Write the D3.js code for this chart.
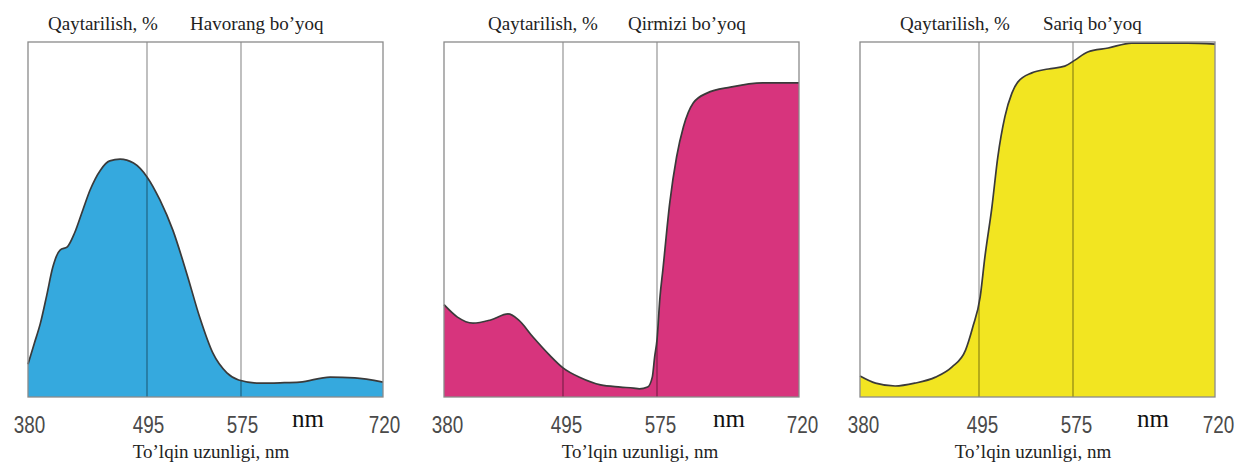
<!DOCTYPE html>
<html>
<head>
<meta charset="utf-8">
<script src="https://cdn.jsdelivr.net/npm/d3@7"></script>
<style>
  html, body { margin: 0; padding: 0; background: #fff; }
  svg { display: block; }
</style>
</head>
<body>
<svg id="chart" width="1237" height="463"></svg>
<script>
// ---------- DATA ----------
const wavelengthTicks = [380, 495, 575, 720];
const yTitle = "Qaytarilish, %";
const xTitle = "To’lqin uzunligi, nm";
const unitLabel = "nm";
const panelTitles = ["Havorang bo’yoq", "Qirmizi bo’yoq", "Sariq bo’yoq"];

const cyanWl  = [380, 386, 392, 398, 404, 411, 418, 425, 433, 440, 450, 459, 469, 482, 495, 506, 517, 529, 540, 551, 563, 573, 594, 615, 635, 666, 691, 720];
const cyanVal = [9.2, 15.0, 20.8, 28.5, 36.6, 41.4, 42.3, 46.2, 52.7, 58.3, 63.9, 66.5, 67.0, 65.9, 62.0, 55.5, 47.0, 34.6, 22.3, 12.4, 6.8, 4.8, 3.9, 4.0, 4.2, 5.6, 5.4, 4.2];

const magentaWl  = [380, 393, 408, 425, 442, 452, 466, 482, 495, 510, 527, 544, 555, 560, 567, 571, 573, 575, 578, 581, 588, 595, 602, 612, 626, 650, 683, 720];
const magentaVal = [26, 22.5, 20.8, 21.7, 23.4, 21.7, 16.9, 11.8, 8.2, 5.4, 3.4, 2.8, 2.5, 2.3, 2.8, 5.6, 11.3, 16.1, 28, 35.8, 54.6, 67.6, 76.1, 82.8, 85.6, 87.3, 88.5, 88.5];

const yellowWl  = [380, 395, 414, 433, 453, 469, 482, 489, 496, 500, 506, 511, 517, 523, 528, 540, 554, 568, 577, 590, 611, 635, 692, 720];
const yellowVal = [5.9, 3.9, 3.1, 3.9, 5.6, 8.5, 13.2, 19.7, 28.2, 39.4, 53.5, 67.6, 78.9, 85.6, 88.7, 91.3, 92.4, 93.2, 94.9, 97.2, 98.3, 99.7, 99.7, 99.4];

// ---------- LAYOUT ----------
const panels = [
  { wl: cyanWl,    val: cyanVal,    color: "#35a9de", left: 28,  t1: 48,  t2: 190,  xl: 211,  shift: 1, nm: 308 },
  { wl: magentaWl, val: magentaVal, color: "#d7347d", left: 444, t1: 488, t2: 628,  xl: 640,  shift: 3, nm: 729 },
  { wl: yellowWl,  val: yellowVal,  color: "#f2e521", left: 860, t1: 900, t2: 1043, xl: 1033, shift: 3, nm: 1153 }
];
const plotTop = 42, plotBottom = 397, pw = 355;
const svg = d3.select("#chart");
const y = d3.scaleLinear().domain([0, 100]).range([plotBottom, plotTop]);
const serif = "'Liberation Serif', 'Times New Roman', Times, serif";

panels.forEach((p, i) => {
  const x = d3.scaleLinear().domain(wavelengthTicks)
    .range([p.left, p.left + 119, p.left + 213, p.left + pw]);
  const pts = p.wl.map((w, k) => [w, p.val[k]]);
  const g = svg.append("g");

  const area = d3.area().x(d => x(d[0])).y0(y(0)).y1(d => y(d[1])).curve(d3.curveMonotoneX);
  const line = d3.line().x(d => x(d[0])).y(d => y(d[1])).curve(d3.curveMonotoneX);

  g.append("path").datum(pts).attr("d", area).attr("fill", p.color);

  g.selectAll("line.guide").data(wavelengthTicks.slice(1, 3)).join("line")
    .attr("class", "guide")
    .attr("x1", d => x(d)).attr("x2", d => x(d))
    .attr("y1", plotTop).attr("y2", plotBottom)
    .attr("stroke", "rgba(0,0,0,0.42)").attr("stroke-width", 1.2);

  g.append("path").datum(pts).attr("d", line)
    .attr("fill", "none").attr("stroke", "#3a3a3a").attr("stroke-width", 1.7);

  g.append("rect").attr("x", p.left).attr("y", plotTop).attr("width", pw).attr("height", plotBottom - plotTop)
    .attr("fill", "none").attr("stroke", "#8a8a8a").attr("stroke-width", 1.3);

  const axis = d3.axisBottom(x).tickValues(wavelengthTicks).tickSize(0).tickPadding(0).tickFormat(d3.format("d"));
  const ag = g.append("g").attr("transform", `translate(${p.shift},0)`).call(axis);
  ag.select(".domain").remove();
  ag.selectAll("text")
    .attr("y", 0).attr("x", 0).attr("dy", null)
    .attr("transform", "translate(0,433) scale(0.82,1)")
    .attr("font-family", "'Liberation Sans', Arial, sans-serif")
    .attr("font-size", 23)
    .attr("fill", "#4a4a4a");

  g.append("text").attr("x", p.nm).attr("y", 427).attr("text-anchor", "middle")
    .attr("font-family", serif).attr("font-size", 25)
    .attr("fill", "#111").text(unitLabel);

  g.append("text").attr("x", p.t1).attr("y", 30)
    .attr("font-family", serif).attr("font-size", 19)
    .attr("fill", "#222").text(yTitle);
  g.append("text").attr("x", p.t2).attr("y", 30)
    .attr("font-family", serif).attr("font-size", 19)
    .attr("fill", "#222").text(panelTitles[i]);

  g.append("text").attr("x", p.xl).attr("y", 458).attr("text-anchor", "middle")
    .attr("font-family", serif).attr("font-size", 19)
    .attr("fill", "#222").text(xTitle);
});
</script>
</body>
</html>
